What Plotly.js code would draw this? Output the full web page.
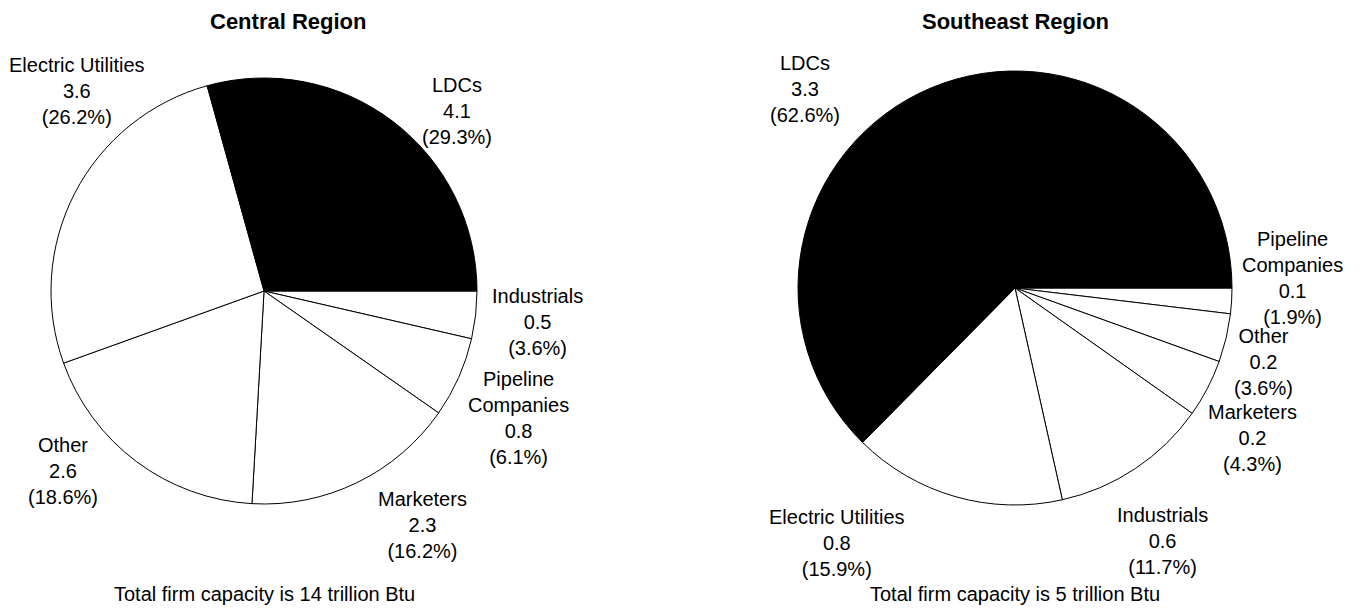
<!DOCTYPE html>
<html>
<head>
<meta charset="utf-8">
<script src="https://cdn.plot.ly/plotly-3.0.1.min.js"></script>
<style>html,body{margin:0;padding:0;background:#fff;}#chart{width:1361px;height:610px;}</style>
</head>
<body>
<div id="chart"></div>
<script>
// ---- data ----
const centralLabels = ["LDCs", "Electric Utilities", "Other", "Marketers", "Pipeline<br>Companies", "Industrials"];
const centralValues = ["4.1", "3.6", "2.6", "2.3", "0.8", "0.5"];
const centralPercents = [29.3, 26.2, 18.6, 16.2, 6.1, 3.6];
const centralTotal = "Total firm capacity is 14 trillion Btu";
const centralTitle = "Central Region";

const southeastLabels = ["LDCs", "Electric Utilities", "Industrials", "Marketers", "Other", "Pipeline<br>Companies"];
const southeastValues = ["3.3", "0.8", "0.6", "0.2", "0.2", "0.1"];
const southeastPercents = [62.6, 15.9, 11.7, 4.3, 3.6, 1.9];
const southeastTotal = "Total firm capacity is 5 trillion Btu";
const southeastTitle = "Southeast Region";

const sliceColors = ["#000000", "#ffffff", "#ffffff", "#ffffff", "#ffffff", "#ffffff"];

// ---- layout (pixel positions) ----
const W = 1361, H = 610;
const FONT = "Liberation Sans, Arial, sans-serif";
const pies = [
  {cx: 264, cy: 291, r: 213, titleX: 288, footX: 264,
   labelPos: [[457, 111], [77, 91], [63, 471], [422, 525], [518, 418], [537, 322]]},
  {cx: 1015, cy: 288, r: 217, titleX: 1015, footX: 1015,
   labelPos: [[805, 89], [837, 543], [1162, 541], [1252, 438], [1263, 362], [1292, 278]]}
];
const titleY = 22, footY = 594;

const datasets = [
  {labels: centralLabels, values: centralValues, pct: centralPercents, title: centralTitle, total: centralTotal},
  {labels: southeastLabels, values: southeastValues, pct: southeastPercents, title: southeastTitle, total: southeastTotal}
];

const px = x => x / W;
const py = y => 1 - y / H;

const traces = [];
const annotations = [];
datasets.forEach((d, i) => {
  const p = pies[i];
  // slices run counterclockwise from 3 o'clock; drawn clockwise in reversed order
  const labs = d.labels.map(s => s.replace("<br>", " ")).slice().reverse();
  const vals = d.pct.slice().reverse();
  const cols = sliceColors.slice().reverse();
  traces.push({
    type: "pie",
    labels: labs,
    values: vals,
    sort: false,
    direction: "clockwise",
    rotation: 90,
    textinfo: "none",
    hoverinfo: "label+percent",
    marker: {colors: cols, line: {color: "#000000", width: 1}},
    domain: {x: [px(p.cx - p.r), px(p.cx + p.r)], y: [py(p.cy + p.r), py(p.cy - p.r)]},
    showlegend: false
  });
  d.labels.forEach((lab, j) => {
    annotations.push({
      xref: "paper", yref: "paper",
      x: px(p.labelPos[j][0]), y: py(p.labelPos[j][1]),
      xanchor: "center", yanchor: "middle", align: "center",
      showarrow: false,
      text: lab + "<br>" + d.values[j] + "<br>(" + d.pct[j].toFixed(1) + "%)",
      font: {family: FONT, size: 20, color: "#000000"}
    });
  });
  annotations.push({
    xref: "paper", yref: "paper", x: px(p.titleX), y: py(titleY),
    xanchor: "center", yanchor: "middle", showarrow: false,
    text: "<b>" + d.title + "</b>",
    font: {family: FONT, size: 22, color: "#000000"}
  });
  annotations.push({
    xref: "paper", yref: "paper", x: px(p.footX), y: py(footY),
    xanchor: "center", yanchor: "middle", showarrow: false,
    text: d.total,
    font: {family: FONT, size: 20, color: "#000000"}
  });
});

Plotly.newPlot("chart", traces, {
  width: W, height: H,
  margin: {l: 0, r: 0, t: 0, b: 0},
  paper_bgcolor: "#ffffff",
  plot_bgcolor: "#ffffff",
  font: {family: FONT, color: "#000000"},
  annotations: annotations
}, {displayModeBar: false, staticPlot: true});
</script>
</body>
</html>
